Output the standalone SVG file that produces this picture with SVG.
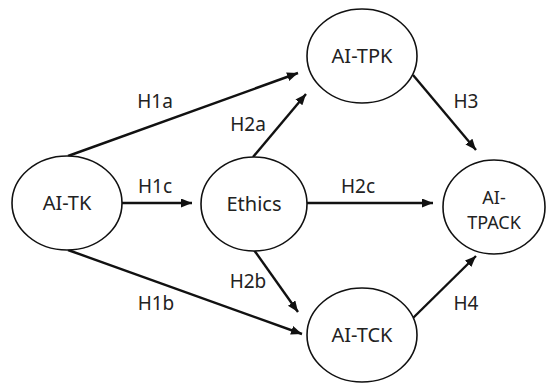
<svg xmlns="http://www.w3.org/2000/svg" width="547" height="383" viewBox="0 0 547 383">
<style>
.node ellipse{fill:#fff;stroke:#111;stroke-width:1.6}
.node text{font-family:"Noto Sans","Open Sans","DejaVu Sans",sans-serif;font-size:20px;fill:#222;text-anchor:middle}
.edge line{stroke:#111;stroke-width:2.4;marker-end:url(#arr)}
.lbl{font-family:"Noto Sans","Open Sans","DejaVu Sans",sans-serif;font-size:19px;fill:#222;text-anchor:middle}
</style>
<defs>
<marker id="arr" markerUnits="userSpaceOnUse" markerWidth="12" markerHeight="10" refX="11" refY="4.5" orient="auto">
<path d="M0,0 L11,4.5 L0,9 z" fill="#111"/>
</marker>
</defs>
<rect width="547" height="383" fill="#fff"/>
<g id="connectors">
<g class="edge" id="e-h1a"><line x1="68" y1="156" x2="298" y2="73"/></g>
<g class="edge" id="e-h2a"><line x1="253" y1="157" x2="306" y2="94"/></g>
<g class="edge" id="e-h1c"><line x1="122" y1="203" x2="192" y2="203"/></g>
<g class="edge" id="e-h2c"><line x1="307" y1="203" x2="433" y2="203"/></g>
<g class="edge" id="e-h1b"><line x1="68" y1="250" x2="302" y2="334"/></g>
<g class="edge" id="e-h2b"><line x1="254" y1="250" x2="298" y2="312"/></g>
<g class="edge" id="e-h3"><line x1="413" y1="75" x2="476" y2="150"/></g>
<g class="edge" id="e-h4"><line x1="413" y1="318" x2="476" y2="256"/></g>
<text class="lbl" x="155" y="108">H1a</text>
<text class="lbl" x="248" y="131">H2a</text>
<text class="lbl" x="155" y="193">H1c</text>
<text class="lbl" x="358" y="193">H2c</text>
<text class="lbl" x="156" y="310">H1b</text>
<text class="lbl" x="248" y="288">H2b</text>
<text class="lbl" x="466" y="108">H3</text>
<text class="lbl" x="466" y="310">H4</text>
</g>
<g class="node" id="n-aitk"><ellipse cx="67" cy="203" rx="55" ry="47"/><text x="67" y="210">AI-TK</text></g>
<g class="node" id="n-ethics"><ellipse cx="254" cy="204" rx="53" ry="47"/><text x="254" y="211">Ethics</text></g>
<g class="node" id="n-aitpk"><ellipse cx="362" cy="56" rx="55" ry="47"/><text x="362" y="63">AI-TPK</text></g>
<g class="node" id="n-aitck"><ellipse cx="362" cy="335" rx="55" ry="47"/><text x="362" y="342">AI-TCK</text></g>
<g class="node" id="n-aitpack"><ellipse cx="494" cy="207" rx="51" ry="47"/><text x="494" y="204" style="font-size:18px">AI-</text><text x="494" y="229" style="font-size:18px">TPACK</text></g>
</svg>
